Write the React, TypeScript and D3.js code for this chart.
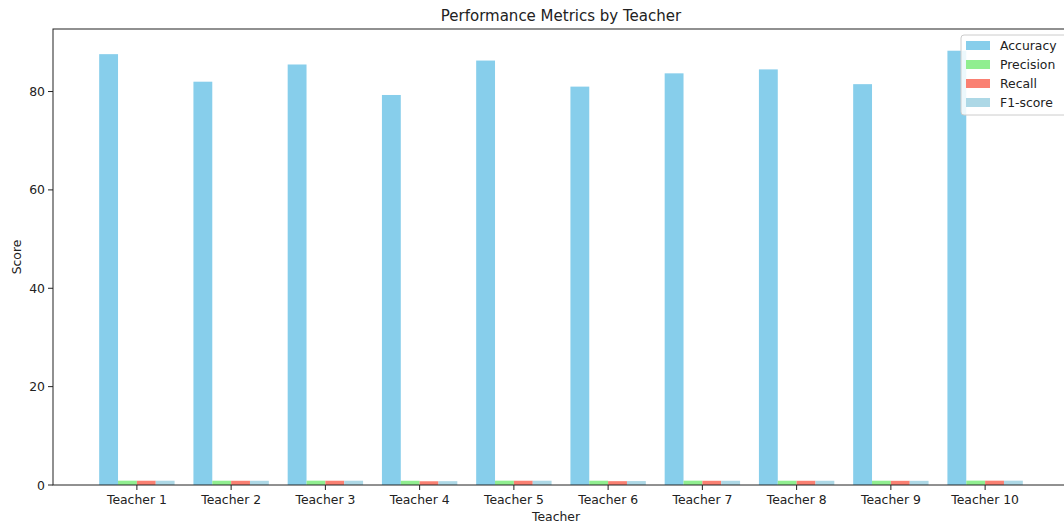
import { useEffect, useRef } from 'react'
import * as d3 from 'd3'

const teachers = ['Teacher 1', 'Teacher 2', 'Teacher 3', 'Teacher 4', 'Teacher 5', 'Teacher 6', 'Teacher 7', 'Teacher 8', 'Teacher 9', 'Teacher 10']
const accuracy = [87.6, 82.0, 85.5, 79.3, 86.3, 81.0, 83.7, 84.5, 81.5, 88.3]
const precision = [0.88, 0.87, 0.88, 0.86, 0.88, 0.87, 0.88, 0.87, 0.87, 0.89]
const recall = [0.87, 0.86, 0.87, 0.76, 0.87, 0.78, 0.86, 0.86, 0.85, 0.88]
const f1score = [0.87, 0.86, 0.87, 0.78, 0.87, 0.80, 0.86, 0.86, 0.85, 0.88]
const seriesNames = ['Accuracy', 'Precision', 'Recall', 'F1-score']
const seriesColors = ['#87CEEB', '#90EE90', '#FA8072', '#ADD8E6']
const yTicks = [0, 20, 40, 60, 80]

const W = 1064
const H = 524

export default function App() {
  const svgRef = useRef<SVGSVGElement>(null)

  useEffect(() => {
    if (!svgRef.current) return
    const svg = d3.select(svgRef.current)
    svg.selectAll('*').remove()

    const left = 53
    const top = 29
    const bottom = 485
    const right = 1069 // right spine sits just outside the frame
    const font = "'DejaVu Sans', sans-serif"
    const fs = 12.4
    const barW = 0.2

    const series = [accuracy, precision, recall, f1score]

    // matplotlib-style 5% margins around the bars
    const x = d3.scaleLinear()
      .domain([-2 * barW - 0.49, teachers.length - 1 + 2 * barW + 0.49])
      .range([left, right])
    const yMax = d3.max(accuracy)! * 1.05
    const y = d3.scaleLinear().domain([0, yMax]).range([bottom, top])

    // bars
    series.forEach((vals, si) => {
      svg.append('g')
        .selectAll('rect')
        .data(vals)
        .enter()
        .append('rect')
        .attr('x', (_, i) => x(i + (si - 2) * barW))
        .attr('width', x(barW) - x(0))
        .attr('y', d => y(d))
        .attr('height', d => bottom - y(d))
        .attr('fill', seriesColors[si])
    })

    // spines
    svg.append('rect')
      .attr('x', left).attr('y', top)
      .attr('width', right - left).attr('height', bottom - top)
      .attr('fill', 'none').attr('stroke', '#222').attr('stroke-width', 1)

    // x ticks
    const xt = svg.append('g')
    teachers.forEach((t, i) => {
      xt.append('line')
        .attr('x1', x(i)).attr('x2', x(i))
        .attr('y1', bottom).attr('y2', bottom + 5)
        .attr('stroke', '#222')
      xt.append('text')
        .attr('x', x(i)).attr('y', bottom + 19)
        .attr('text-anchor', 'middle')
        .attr('font-family', font).attr('font-size', fs)
        .attr('fill', '#222')
        .text(t)
    })

    // y ticks
    const yt = svg.append('g')
    yTicks.forEach(v => {
      yt.append('line')
        .attr('x1', left - 5).attr('x2', left)
        .attr('y1', y(v)).attr('y2', y(v))
        .attr('stroke', '#222')
      yt.append('text')
        .attr('x', left - 8).attr('y', y(v) + 4.5)
        .attr('text-anchor', 'end')
        .attr('font-family', font).attr('font-size', fs)
        .attr('fill', '#222')
        .text(v)
    })

    // axis labels + title
    svg.append('text')
      .attr('x', (left + right) / 2 - 5).attr('y', 521)
      .attr('text-anchor', 'middle')
      .attr('font-family', font).attr('font-size', fs).attr('fill', '#222')
      .text('Teacher')
    svg.append('text')
      .attr('transform', `translate(21,${(top + bottom) / 2}) rotate(-90)`)
      .attr('text-anchor', 'middle')
      .attr('font-family', font).attr('font-size', fs).attr('fill', '#222')
      .text('Score')
    svg.append('text')
      .attr('x', 561).attr('y', 21)
      .attr('text-anchor', 'middle')
      .attr('font-family', font).attr('font-size', 15).attr('fill', '#222')
      .text('Performance Metrics by Teacher')

    // legend (runs off the right edge like the source)
    const lg = svg.append('g').attr('transform', 'translate(961,35)')
    lg.append('rect')
      .attr('width', 115).attr('height', 80)
      .attr('rx', 3)
      .attr('fill', 'white').attr('fill-opacity', 0.85)
      .attr('stroke', '#ccc')
    seriesNames.forEach((name, i) => {
      lg.append('rect')
        .attr('x', 5).attr('y', 6 + i * 19)
        .attr('width', 24).attr('height', 9)
        .attr('fill', seriesColors[i])
      lg.append('text')
        .attr('x', 39).attr('y', 15 + i * 19)
        .attr('font-family', font).attr('font-size', fs).attr('fill', '#222')
        .text(name)
    })
  }, [])

  return (
    <svg
      ref={svgRef}
      width={W}
      height={H}
      style={{ position: 'absolute', left: 0, top: 0, display: 'block', background: 'white' }}
    />
  )
}
